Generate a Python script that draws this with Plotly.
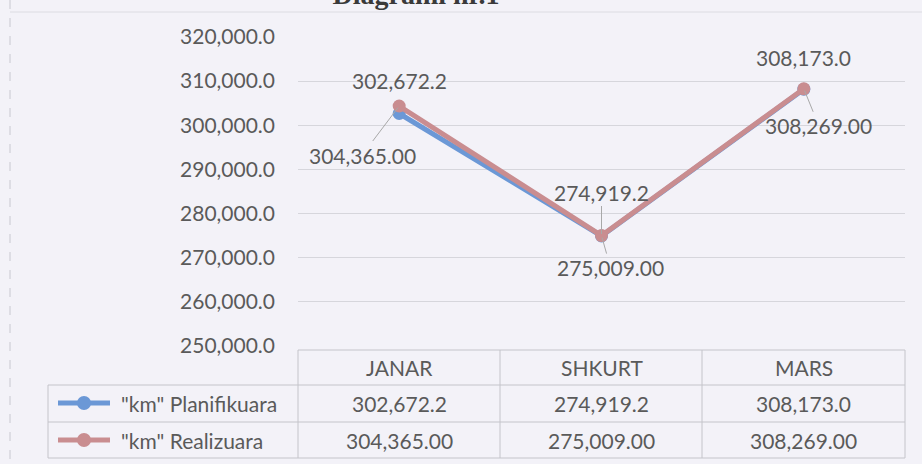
import plotly.graph_objects as go

months = ["JANAR", "SHKURT", "MARS"]
plan_name = '"km" Planifikuara'
real_name = '"km" Realizuara'
plan_vals = [302672.2, 274919.2, 308173.0]
real_vals = [304365.00, 275009.00, 308269.00]
plan_text = ["302,672.2", "274,919.2", "308,173.0"]
real_text = ["304,365.00", "275,009.00", "308,269.00"]
y_ticks = [250000, 260000, 270000, 280000, 290000, 300000, 310000, 320000]

W, H = 922, 464
L, R, T, B = 298, 17, 37, 118
PW, PH = W - L - R, H - T - B
BG = "#f3f2f8"
TXT = "#5a5a5a"
GRID = "#d6d6dc"
TLINE = "#c4c4ca"
BLUE = "#6b98d6"
PINK = "#c98d90"
FONT = "Lato"
FS = 21

def px(x):
    return (x - L) / PW

def py(y):
    return (H - B - y) / PH

fig = go.Figure()
fig.add_trace(go.Scatter(x=months, y=plan_vals, name=plan_name, mode="lines+markers",
                         line=dict(color=BLUE, width=5), marker=dict(size=13, color=BLUE)))
fig.add_trace(go.Scatter(x=months, y=real_vals, name=real_name, mode="lines+markers",
                         line=dict(color=PINK, width=5), marker=dict(size=13, color=PINK)))

ann = []
plan_off = [(0, -33, False), (0, -44, True), (0, -32, False)]
for m, v, t, (dx, dy, arrow) in zip(months, plan_vals, plan_text, plan_off):
    if arrow:
        ann.append(dict(x=m, y=v, text=t, showarrow=True, arrowhead=0, arrowwidth=1,
                        arrowcolor="#a8a8a8", ax=dx, ay=dy, standoff=2,
                        font=dict(family=FONT, size=FS, color=TXT)))
    else:
        ann.append(dict(x=m, y=v, text=t, showarrow=False, xshift=dx, yshift=-dy,
                        font=dict(family=FONT, size=FS, color=TXT)))
real_off = [(-37, 49), (9, 32), (15, 37)]
for m, v, t, (dx, dy) in zip(months, real_vals, real_text, real_off):
    ann.append(dict(x=m, y=v, text=t, showarrow=True, arrowhead=0, arrowwidth=1,
                    arrowcolor="#a8a8a8", ax=dx, ay=dy, standoff=2,
                    font=dict(family=FONT, size=FS, color=TXT)))

for m, pt, rt in zip(months, plan_text, real_text):
    for txt, yy in [(m, 367), (pt, 403), (rt, 440)]:
        ann.append(dict(x=m, y=py(yy), yref="paper", text=txt, showarrow=False,
                        xanchor="center", yanchor="middle",
                        font=dict(family=FONT, size=FS, color=TXT)))
for name, yy in [(plan_name, 403), (real_name, 440)]:
    ann.append(dict(x=px(119), y=py(yy), xref="paper", yref="paper", text=name,
                    xanchor="left", yanchor="middle", showarrow=False,
                    font=dict(family=FONT, size=FS, color=TXT)))

shapes = []
def hline(x0, x1, y, color=TLINE, dash="solid"):
    shapes.append(dict(type="line", xref="paper", yref="paper", x0=px(x0), x1=px(x1),
                       y0=py(y), y1=py(y), line=dict(color=color, width=1, dash=dash)))
def vline(x, y0, y1, color=TLINE, dash="solid"):
    shapes.append(dict(type="line", xref="paper", yref="paper", x0=px(x), x1=px(x),
                       y0=py(y0), y1=py(y1), line=dict(color=color, width=1, dash=dash)))

hline(298, 905, 350)
for yy in (385, 422, 458):
    hline(48, 905, yy)
vline(48, 385, 458)
for xx in (298, 500, 702, 905):
    vline(xx, 350, 458)
vline(10, 0, 464, color="#c8c8d0", dash="dash")
hline(10, 922, 12, color="#dcdce2")

for color, yy in [(BLUE, 403), (PINK, 440)]:
    shapes.append(dict(type="line", xref="paper", yref="paper", x0=px(58), x1=px(110),
                       y0=py(yy), y1=py(yy), line=dict(color=color, width=5)))
    shapes.append(dict(type="circle", xref="paper", yref="paper", x0=px(77), x1=px(91),
                       y0=py(yy + 7), y1=py(yy - 7), fillcolor=color, line=dict(color=color, width=0)))

fig.update_layout(
    width=W, height=H,
    margin=dict(l=L, r=R, t=T, b=B),
    paper_bgcolor=BG, plot_bgcolor=BG,
    showlegend=False,
    title=dict(text="<b>Diagrami nr.1</b>", x=416 / W, xanchor="center",
               y=1 - 4 / H, yanchor="bottom", yref="container",
               font=dict(family="Liberation Serif", size=28, color="#3a3a3a")),
    annotations=ann, shapes=shapes,
    xaxis=dict(range=[-0.5, 2.5], showticklabels=False, showgrid=False, zeroline=False,
               showline=False, ticks=""),
    yaxis=dict(range=[250000, 320000], tickvals=y_ticks,
               ticktext=[f"{v:,.1f}" for v in y_ticks],
               tickfont=dict(family=FONT, size=FS, color=TXT),
               gridcolor=GRID, gridwidth=1, zeroline=False, showline=False,
               ticks="", ticklabelstandoff=22),
)
fig.write_html("out.html", config={"displayModeBar": False},
               post_script="document.body.style.margin='0px';document.body.style.overflow='hidden';")
